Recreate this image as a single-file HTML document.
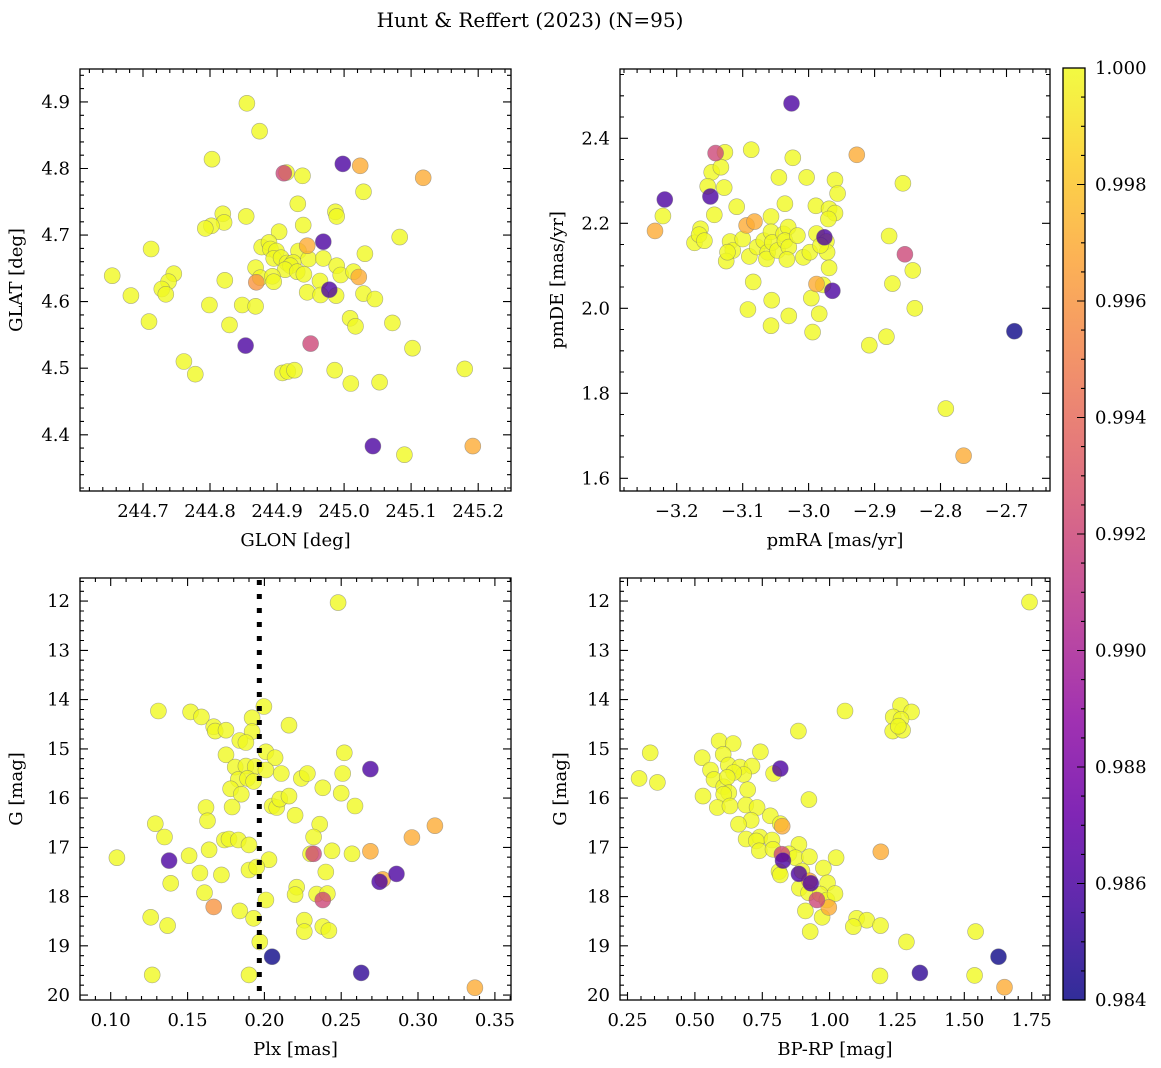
<!DOCTYPE html>
<html><head><meta charset="utf-8">
<style>
html,body{margin:0;padding:0;background:#fff;}
svg{display:block;font-family:"DejaVu Serif","Liberation Serif",serif;}
</style></head>
<body>
<svg id="fig" width="1161" height="1068" viewBox="0 0 1161 1068" xmlns="http://www.w3.org/2000/svg">
<text x="530" y="27" font-size="20" text-anchor="middle">Hunt &amp; Reffert (2023) (N=95)</text>
</svg>
<script>
// ---- Panel 1: GLON vs GLAT ----
const glon1 = [244.855,244.874,244.803,244.998,245.024,244.91,244.914,244.938,245.118,245.029,244.931,244.987,244.989,244.819,244.821,244.802,244.793,244.854,244.939,245.083,244.903,244.969,244.945,244.712,244.877,244.888,244.89,244.899,244.932,244.947,245.031,244.969,244.895,244.906,244.915,244.924,244.92,244.912,244.93,244.94,244.868,244.989,244.995,245.014,245.022,244.654,244.746,244.738,244.728,244.734,244.822,244.869,244.875,244.893,244.895,244.964,244.978,244.945,244.965,244.988,245.029,245.046,244.682,244.799,244.848,244.868,244.709,244.829,245.009,245.017,245.072,245.102,244.853,244.95,244.761,244.778,244.908,244.916,244.926,244.986,245.01,245.053,245.18,245.043,245.09,245.192];
const glat1 = [4.898,4.856,4.814,4.807,4.804,4.793,4.794,4.789,4.786,4.765,4.747,4.735,4.728,4.732,4.719,4.714,4.71,4.728,4.715,4.697,4.705,4.69,4.684,4.679,4.682,4.689,4.679,4.676,4.676,4.664,4.672,4.665,4.665,4.666,4.658,4.659,4.654,4.648,4.645,4.641,4.651,4.654,4.64,4.645,4.637,4.639,4.642,4.63,4.619,4.611,4.632,4.629,4.636,4.638,4.63,4.631,4.618,4.614,4.61,4.609,4.612,4.604,4.609,4.595,4.595,4.593,4.57,4.565,4.575,4.563,4.568,4.53,4.534,4.537,4.51,4.491,4.493,4.495,4.497,4.497,4.477,4.479,4.499,4.383,4.37,4.383];
const prob1 = [1,1,1,0.986,0.997,0.992,1,1,0.997,1,1,1,1,1,1,1,1,1,1,1,1,0.986,0.997,1,1,1,1,1,1,1,1,1,1,1,1,1,1,1,1,1,1,1,1,1,0.997,1,1,1,1,1,1,0.996,1,1,1,1,0.986,1,1,1,1,1,1,1,1,1,1,1,1,1,1,1,0.986,0.992,1,1,1,1,1,1,1,1,1,0.986,1,0.997];

// ---- Panel 2: pmRA vs pmDE ----
const pmra2 = [-3.026,-3.141,-3.127,-3.087,-3.024,-2.927,-3.147,-3.133,-3.153,-3.128,-3.045,-3.003,-2.96,-2.956,-2.857,-3.218,-3.149,-3.221,-3.233,-3.143,-3.109,-3.036,-2.989,-2.969,-2.96,-2.97,-3.057,-3.094,-3.082,-3.164,-3.173,-3.166,-3.158,-3.119,-3.115,-3.125,-3.123,-3.1,-3.09,-3.078,-3.068,-3.062,-3.057,-3.055,-3.064,-3.047,-3.038,-3.031,-3.036,-3.03,-3.017,-3.033,-3.008,-2.998,-2.976,-2.988,-2.973,-2.972,-2.982,-2.969,-2.878,-2.854,-2.842,-2.873,-3.084,-2.988,-2.978,-2.964,-3.056,-2.996,-3.092,-2.839,-3.03,-2.984,-3.057,-2.994,-2.882,-2.908,-2.688,-2.792,-2.765];
const pmde2 = [2.482,2.365,2.367,2.373,2.354,2.361,2.32,2.332,2.287,2.284,2.308,2.308,2.302,2.27,2.294,2.256,2.263,2.217,2.182,2.22,2.239,2.246,2.241,2.234,2.224,2.21,2.216,2.195,2.204,2.187,2.154,2.173,2.159,2.157,2.136,2.111,2.132,2.163,2.122,2.144,2.159,2.132,2.18,2.155,2.116,2.136,2.175,2.191,2.159,2.144,2.171,2.115,2.12,2.132,2.167,2.176,2.157,2.132,2.148,2.095,2.17,2.127,2.089,2.058,2.062,2.057,2.055,2.041,2.019,2.024,1.997,2.0,1.982,1.987,1.959,1.944,1.933,1.913,1.946,1.764,1.653];
const prob2 = [0.986,0.992,1,1,1,0.997,1,1,1,1,1,1,1,1,1,0.986,0.986,1,0.997,1,1,1,1,1,1,1,1,0.997,0.997,1,1,1,1,1,1,1,1,1,1,1,1,1,1,1,1,1,1,1,1,1,1,1,1,1,0.986,1,1,1,1,1,1,0.992,1,1,1,0.997,1,0.986,1,1,1,1,1,1,1,1,1,1,0.984,1,0.997];

// ---- Panel 3: Plx vs G ----
const plx3 = [0.248,0.131,0.152,0.159,0.1997,0.192,0.192,0.167,0.168,0.175,0.216,0.184,0.188,0.175,0.201,0.207,0.252,0.269,0.181,0.188,0.194,0.201,0.183,0.189,0.193,0.211,0.224,0.228,0.251,0.178,0.185,0.238,0.25,0.205,0.208,0.21,0.216,0.259,0.162,0.179,0.22,0.163,0.129,0.236,0.135,0.232,0.311,0.296,0.174,0.177,0.183,0.19,0.164,0.104,0.138,0.151,0.203,0.23,0.232,0.244,0.257,0.269,0.158,0.172,0.19,0.195,0.24,0.275,0.277,0.286,0.139,0.161,0.221,0.22,0.234,0.241,0.238,0.201,0.167,0.184,0.193,0.126,0.137,0.226,0.226,0.238,0.242,0.197,0.205,0.127,0.19,0.263,0.337];
const g3 = [12.03,14.23,14.25,14.35,14.14,14.37,14.65,14.55,14.64,14.62,14.52,14.83,14.87,15.12,15.06,15.18,15.08,15.41,15.37,15.35,15.36,15.43,15.62,15.6,15.66,15.5,15.6,15.5,15.5,15.81,15.92,15.79,15.9,16.16,16.19,16.02,15.96,16.16,16.19,16.18,16.35,16.46,16.52,16.53,16.79,16.79,16.56,16.8,16.85,16.83,16.85,16.95,17.05,17.21,17.27,17.17,17.25,17.13,17.13,17.07,17.13,17.08,17.52,17.56,17.46,17.4,17.5,17.7,17.65,17.54,17.73,17.92,17.81,17.96,17.95,17.94,18.07,18.07,18.21,18.29,18.44,18.42,18.59,18.48,18.71,18.61,18.69,18.92,19.22,19.59,19.59,19.55,19.85];
const prob3 = [1,1,1,1,1,1,1,1,1,1,1,1,1,1,1,1,1,0.986,1,1,1,1,1,1,1,1,1,1,1,1,1,1,1,1,1,1,1,1,1,1,1,1,1,1,1,1,0.997,0.997,1,1,1,1,1,1,0.986,1,1,1,0.992,1,1,0.997,1,1,1,1,1,0.986,0.997,0.986,1,1,1,1,1,1,0.992,1,0.996,1,1,1,1,1,1,1,1,1,0.984,1,1,0.985,0.997];

// ---- Panel 4: BP-RP vs G ----
const bprp4 = [1.742,1.057,1.263,1.304,1.236,1.265,1.234,1.271,1.255,0.884,0.334,0.59,0.642,0.605,0.743,0.527,0.817,0.792,0.624,0.667,0.712,0.681,0.644,0.558,0.571,0.293,0.361,0.607,0.696,0.62,0.626,0.53,0.607,0.923,0.583,0.63,0.689,0.731,0.78,0.709,0.662,0.817,0.824,0.69,0.741,0.728,0.786,0.739,0.886,0.79,0.823,0.827,0.849,0.873,0.925,1.19,1.024,0.977,0.812,0.817,0.886,0.897,0.925,0.93,0.992,0.888,0.922,0.965,0.953,0.99,1.02,0.997,0.91,0.972,1.1,1.138,1.088,1.189,0.928,1.542,1.285,1.627,1.187,1.335,1.538,1.649];
const g4 = [12.02,14.23,14.12,14.25,14.35,14.4,14.64,14.62,14.54,14.64,15.08,14.84,14.89,15.11,15.06,15.18,15.4,15.5,15.33,15.37,15.35,15.52,15.48,15.43,15.62,15.6,15.68,15.77,15.83,15.58,15.89,15.96,15.92,16.03,16.19,16.16,16.14,16.19,16.36,16.45,16.53,16.52,16.57,16.83,16.79,16.87,16.85,17.07,16.94,17.04,17.14,17.27,17.13,17.21,17.19,17.09,17.21,17.42,17.49,17.56,17.54,17.48,17.68,17.73,17.72,17.83,17.92,17.95,18.07,18.07,17.94,18.22,18.29,18.42,18.44,18.48,18.61,18.59,18.71,18.71,18.92,19.22,19.61,19.55,19.6,19.84];
const prob4 = [1,1,1,1,1,1,1,1,1,1,1,1,1,1,1,1,0.986,1,1,1,1,1,1,1,1,1,1,1,1,1,1,1,1,1,1,1,1,1,1,1,1,1,0.997,1,1,1,1,1,1,1,0.992,0.986,1,1,1,0.997,1,1,1,1,0.986,1,0.997,0.986,1,1,1,1,0.992,1,1,0.997,1,1,1,1,1,1,1,1,1,0.984,1,0.985,1,0.997];

const cbTicks = [1.000,0.998,0.996,0.994,0.992,0.990,0.988,0.986,0.984];

const NS = "http://www.w3.org/2000/svg";
const svg = document.getElementById('fig');
function mk(tag, attrs, parent){
  const e = document.createElementNS(NS, tag);
  for (const k in attrs) e.setAttribute(k, attrs[k]);
  (parent||svg).appendChild(e);
  return e;
}
const stops = ["#0d0887","#41049d","#6a00a8","#8f0da4","#b12a90","#cc4778","#e16462","#f2844b","#fca636","#fcce25","#f0f921"];
function hex(h){return [parseInt(h.substr(1,2),16),parseInt(h.substr(3,2),16),parseInt(h.substr(5,2),16)];}
function plasma(t){
  t=Math.max(0,Math.min(1,t)); const f=t*10; const i=Math.min(9,Math.floor(f)); const r=f-i;
  const a=hex(stops[i]), b=hex(stops[i+1]);
  return 'rgb('+a.map((v,k)=>Math.round(v+(b[k]-v)*r)).join(',')+')';
}
const PMIN=0.984, PMAX=1.0;
function pcol(p){return plasma((p-PMIN)/(PMAX-PMIN));}
function fmt(v,d){const s=v.toFixed(d);return v<0?'\u2212'+s.slice(1):s;}

function panel(o){
  const {name,L,R,T,B,xmin,xmax,ymin,ymax,invertY,xs,ys,ps,xmaj,xmin_,ymaj,ymin_,xd,yd,xlabel,ylabel,ylabX} = o;
  const sx = v => L + (v-xmin)/(xmax-xmin)*(R-L);
  const sy = v => invertY ? T + (v-ymin)/(ymax-ymin)*(B-T) : B - (v-ymin)/(ymax-ymin)*(B-T);
  const g = mk('g',{});
  
  
  const pts = mk('g',{},g);
  
  
  const idx = xs.map((_,i)=>i).sort((a,b)=>ps[b]-ps[a]);
  idx.forEach(i=>{
    const c = mk('circle',{cx:sx(xs[i]).toFixed(1),cy:sy(ys[i]).toFixed(1),r:8,fill:pcol(ps[i]),'fill-opacity':0.8,stroke:'#777','stroke-opacity':0.6,'stroke-width':0.6},pts);
    
    
  });
  if (o.extra) o.extra(g, sx, sy);
  const fr = mk('rect',{x:L,y:T,width:R-L,height:B-T,fill:'none',stroke:'#000','stroke-width':1.3},g);
  
  
  let d='';
  const eps=1e-9;
  for (let v=Math.ceil(xmin/xmin_-eps)*xmin_; v<=xmax+eps; v+=xmin_){
    const x=sx(v).toFixed(1);
    const isMaj=Math.abs(v/xmaj-Math.round(v/xmaj))<1e-6;
    const len=isMaj?8:4;
    d+=`M${x} ${B}v${-len}M${x} ${T}v${len}`;
  }
  for (let v=Math.ceil(ymin/ymin_-eps)*ymin_; v<=ymax+eps; v+=ymin_){
    const y=sy(v).toFixed(1);
    const isMaj=Math.abs(v/ymaj-Math.round(v/ymaj))<1e-6;
    const len=isMaj?8:4;
    d+=`M${L} ${y}h${len}M${R} ${y}h${-len}`;
  }
  mk('path',{d:d,stroke:'#000','stroke-width':1.1,fill:'none'},g);
  for (let k=Math.ceil(xmin/xmaj-eps); k*xmaj<=xmax+eps; k++){
    const v=k*xmaj;
    const t=mk('text',{x:sx(v).toFixed(1),y:B+26,'font-size':18,'text-anchor':'middle'},g);
    
    
    t.textContent=fmt(v,xd);
  }
  for (let k=Math.ceil(ymin/ymaj-eps); k*ymaj<=ymax+eps; k++){
    const v=k*ymaj;
    const t=mk('text',{x:L-10,y:(sy(v)+6).toFixed(1),'font-size':18,'text-anchor':'end'},g);
    
    
    t.textContent=fmt(v,yd);
  }
  const xl=mk('text',{x:(L+R)/2,y:B+55,'font-size':18,'text-anchor':'middle'},g);
  
  
  xl.textContent=xlabel;
  const yl=mk('text',{x:ylabX,y:(T+B)/2,'font-size':18,'text-anchor':'middle',transform:`rotate(-90 ${ylabX} ${(T+B)/2})`},g);
  
  
  yl.textContent=ylabel;
}

panel({name:'glon-glat',L:80,R:511,T:69,B:491,xmin:244.606,xmax:245.249,ymin:4.3155,ymax:4.9495,invertY:false,
  xs:glon1,ys:glat1,ps:prob1,xmaj:0.1,xmin_:0.02,ymaj:0.1,ymin_:0.02,xd:1,yd:1,xlabel:'GLON [deg]',ylabel:'GLAT [deg]',ylabX:22});
panel({name:'pm',L:620,R:1050,T:69,B:491,xmin:-3.286,xmax:-2.634,ymin:1.570,ymax:2.563,invertY:false,
  xs:pmra2,ys:pmde2,ps:prob2,xmaj:0.1,xmin_:0.02,ymaj:0.2,ymin_:0.05,xd:1,yd:1,xlabel:'pmRA [mas/yr]',ylabel:'pmDE [mas/yr]',ylabX:563});
panel({name:'plx-g',L:80,R:511,T:578,B:1000,xmin:0.080,xmax:0.3605,ymin:11.53,ymax:20.1,invertY:true,
  xs:plx3,ys:g3,ps:prob3,xmaj:0.05,xmin_:0.01,ymaj:1,ymin_:0.2,xd:2,yd:0,xlabel:'Plx [mas]',ylabel:'G [mag]',ylabX:22,
  extra:(g,sx,sy)=>{
    const l=mk('line',{x1:sx(0.1967),x2:sx(0.1967),y1:580,y2:1000,stroke:'#000','stroke-width':5,'stroke-dasharray':'5 9'},g);
    
    
  }});
panel({name:'cmd',L:620,R:1050,T:578,B:1000,xmin:0.222,xmax:1.818,ymin:11.53,ymax:20.1,invertY:true,
  xs:bprp4,ys:g4,ps:prob4,xmaj:0.25,xmin_:0.05,ymaj:1,ymin_:0.2,xd:2,yd:0,xlabel:'BP-RP [mag]',ylabel:'G [mag]',ylabX:566});

(function(){
  const X0=1063,X1=1085,T=68,B=1000;
  const defs=mk('defs',{});
  const lg=mk('linearGradient',{id:'cbg',x1:0,y1:1,x2:0,y2:0},defs);
  for(let i=0;i<=20;i++){mk('stop',{offset:i/20,'stop-color':plasma(i/20),'stop-opacity':0.85},lg);}
  const r=mk('rect',{x:X0,y:T,width:X1-X0,height:B-T,fill:'url(#cbg)',stroke:'#000','stroke-width':1.3});
  
  
  const sy=v=>B-(v-PMIN)/(PMAX-PMIN)*(B-T);
  let d='';
  for(let k=0;k<=32;k++){const v=PMIN+k*0.0005;const y=sy(v).toFixed(1);d+=`M${X1} ${y}h${k%4===0?-8:-4}`;}
  mk('path',{d:d,stroke:'#000','stroke-width':1.1});
  cbTicks.forEach(v=>{
    const t=mk('text',{x:X1+10,y:(sy(v)+6).toFixed(1),'font-size':18});
    
    
    t.textContent=v.toFixed(3);
  });
})();
</script>
</body></html>
